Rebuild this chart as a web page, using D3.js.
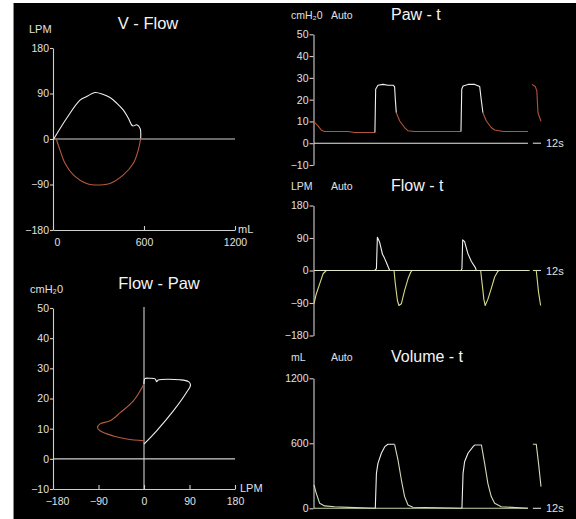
<!DOCTYPE html>
<html>
<head>
<meta charset="utf-8">
<script src="https://cdn.jsdelivr.net/npm/d3@7"></script>
<style>
  body { margin: 0; background: #fff; }
  svg { display: block; font-family: "Liberation Sans", Arial, sans-serif; }
</style>
</head>
<body>
<div class="chart"></div>
<script>
// ---- loop data ----
// V - Flow loop, inspiration then expiration
var vfInspVol  = [5, 90, 178, 222, 277, 332, 376, 420, 464, 497, 525, 552, 574, 578];
var vfInspFlow = [0, 41, 77, 84, 92, 88, 82, 71, 57, 41, 26, 28, 21, 1];
var vfExpVol   = [578, 562, 530, 464, 376, 310, 222, 134, 79, 46, 22];
var vfExpFlow  = [1, -22, -48, -71, -88, -91, -88, -71, -48, -22, 0];

// Flow - Paw loop
var fpInspFlow = [0, 25, 58, 84, 92, 88, 71, 28, 25, 22, 12, 2, 0];
var fpInspPaw  = [4.9, 9.3, 15.9, 22, 24.5, 25.6, 26.2, 26.1, 25.6, 26.5, 26.7, 26.6, 24.8];
var fpExpFlow  = [0, -21, -47, -67, -87, -92, -87, -61, -34, 0];
var fpExpPaw   = [24.8, 19.2, 15.3, 12.6, 11.6, 10.4, 9.3, 7.6, 6.6, 6];

// ---- time traces, 12 s sweep; null = erase bar ----
var pawT     = [0, 0.21, 0.39, 0.56, 1.80, 2.15, 3.22, 3.26, 3.38, 3.65, 3.91, 4.18, 4.26, 4.30, 4.35, 4.53, 4.79, 4.97, 5.3, 7.77, 7.81, 7.88, 8.14, 8.50, 8.76, 8.84, 8.93, 9.11, 9.37, 9.55, 10, 11.31, 11.4, 11.52, 11.70, 11.78, 11.84, 12];
var pawV     = [9.8, 8, 6, 5.4, 5.4, 4.9, 4.9, 24.8, 26.6, 27, 26.6, 26.6, 26, 20, 14, 10.2, 7.2, 5.7, 5.4, 5.4, 24.8, 26.3, 27, 27, 26, 20, 14, 10.2, 7.2, 6.1, 5.4, 5.4, null, 27, 26, 24, 14, 10];
var pawPhase = ["e","e","e","e","e","e","e","i","i","i","i","i","i","i","i","e","e","e","e","e","i","i","i","i","i","i","i","e","e","e","e","e","e","e","e","e","e","e"];

var flowT     = [0, 0.12, 0.30, 0.48, 0.65, 3.21, 3.30, 3.35, 3.47, 3.62, 3.72, 3.82, 4.00, 4.23, 4.30, 4.41, 4.49, 4.62, 4.79, 4.97, 5.11, 5.18, 7.77, 7.82, 7.86, 7.96, 8.14, 8.32, 8.53, 8.58, 8.81, 8.89, 8.98, 9.05, 9.19, 9.37, 9.55, 9.72, 9.80, 11.40, 11.5, 11.58, 11.75, 11.87, 11.98];
var flowV     = [-92, -65, -37, -9, 0, 0, 5, 92, 78, 45, 35, 23, 0, 0, -37, -83, -97, -92, -55, -23, -5, 0, 0, 5, 85, 80, 46, 25, 8, 0, 0, -37, -80, -97, -80, -50, -18, -2, 0, 0, null, 0, 0, -60, -97];
var flowPhase = ["e","e","e","e","e","e","i","i","i","i","i","i","i","e","e","e","e","e","e","e","e","e","e","i","i","i","i","i","i","i","e","e","e","e","e","e","e","e","e","e","e","e","e","e","e"];

var volT     = [0, 0.12, 0.30, 0.56, 1.09, 2.15, 3.24, 3.30, 3.38, 3.56, 3.74, 3.91, 4.26, 4.44, 4.62, 4.79, 4.97, 5.23, 7.79, 7.82, 7.88, 7.96, 8.14, 8.41, 8.50, 8.85, 9.02, 9.19, 9.37, 9.55, 9.90, 11.31, 11.4, 11.57, 11.75, 11.87, 12];
var volV     = [215, 138, 46, 22, 15, 6, 0, 323, 415, 508, 569, 591, 591, 446, 261, 108, 31, 9, 0, 0, 323, 430, 508, 570, 585, 585, 415, 231, 108, 46, 15, 0, null, 591, 591, 415, 200];
var volPhase = ["e","e","e","e","e","e","e","i","i","i","i","i","i","e","e","e","e","e","e","e","i","i","i","i","i","e","e","e","e","e","e","e","e","e","e","e","e"];
var sweepGap = [11.31, 11.57];

// ---- ticks ----
var vfFlowTicks = [-180, -90, 0, 90, 180];
var vfVolTicks = [0, 600, 1200];
var fpPawTicks = [-10, 0, 10, 20, 30, 40, 50];
var fpFlowTicks = [-180, -90, 0, 90, 180];
var pawTicks = [-10, 0, 10, 20, 30, 40, 50];
var flowTicks = [-180, -90, 0, 90, 180];
var volTicks = [0, 600, 1200];

var width = 576,
    height = 519;

var insColor = "#f0f0f0",
    axisColor = "#cfcfcf",
    textColor = "#e0e0e0";

var svg = d3.select(".chart")
  .append("svg")
    .attr("width", width)
    .attr("height", height);

svg.append("rect")
  .attr("x", 13).attr("y", 3)
  .attr("width", width - 13).attr("height", height - 3)
  .attr("fill", "#000");
svg.append("line")
  .attr("x1", 13.5).attr("x2", 13.5).attr("y1", 3).attr("y2", height)
  .attr("stroke", "#8a8a8a");

// scales
var xVF = d3.scaleLinear().domain([0, 1200]).range([53, 235]);
var yVF = d3.scaleLinear().domain([-180, 180]).range([230, 48]);
var xFP = d3.scaleLinear().domain([-180, 180]).range([53, 235]);
var yFP = d3.scaleLinear().domain([-10, 50]).range([489, 308]);
var xT = d3.scaleLinear().domain([0, 12]).range([314, 541]);
var yPaw = d3.scaleLinear().domain([-10, 50]).range([165, 34.3]);
var yFlow = d3.scaleLinear().domain([-180, 180]).range([335.5, 205.5]);
var yVol = d3.scaleLinear().domain([0, 1200]).range([508.3, 378.3]);

var fmt = d3.format("d");

function styleAxis(g, size) {
  g.attr("font-size", null).attr("font-family", null);
  g.select(".domain").attr("stroke", axisColor).attr("stroke-width", 1.1);
  g.selectAll(".tick line").attr("stroke", axisColor).attr("stroke-width", 1.1);
  g.selectAll(".tick text").attr("fill", textColor).style("font-size", size + "px");
}

function leftAxis(scale, ticks, x, tick) {
  var g = svg.append("g")
    .attr("transform", "translate(" + x + ",0)")
    .call(d3.axisLeft(scale).tickValues(ticks).tickFormat(fmt)
      .tickSize(tick).tickSizeOuter(0).tickPadding(1));
  styleAxis(g, 10.5);
  return g;
}

function bottomAxis(scale, ticks, y) {
  var g = svg.append("g")
    .attr("transform", "translate(0," + y + ")")
    .call(d3.axisBottom(scale).tickValues(ticks).tickFormat(fmt)
      .tickSize(-4).tickSizeOuter(0).tickPadding(9));
  styleAxis(g, 10.5);
  // first label sits a bit inside, like on the monitor
  g.selectAll(".tick text").filter(function(d, i) { return i === 0; }).attr("dx", 4);
  return g;
}

function label(x, y, txt, size, anchor, fill) {
  svg.append("text")
    .attr("x", x).attr("y", y)
    .attr("text-anchor", anchor || "start")
    .attr("fill", fill || textColor)
    .style("font-size", size + "px")
    .text(txt);
}

function hline(x1, x2, y, color) {
  svg.append("line")
    .attr("x1", x1).attr("x2", x2).attr("y1", y).attr("y2", y)
    .attr("stroke", color || axisColor).attr("stroke-width", 1.1);
}

function drawLoop(xs, ys, xScale, yScale, color) {
  var pts = xs.map(function(d, i) { return [d, ys[i]]; });
  svg.append("path")
    .datum(pts)
    .attr("d", d3.line()
      .x(function(d) { return xScale(d[0]); })
      .y(function(d) { return yScale(d[1]); })
      .curve(d3.curveCatmullRom))
    .attr("fill", "none")
    .attr("stroke", color)
    .attr("stroke-width", 1.1);
}

// split a trace into runs of the same phase, breaking at nulls
function segments(t, v, phase) {
  var segs = [], cur = null;
  for (var i = 0; i < t.length; i++) {
    if (v[i] === null) { cur = null; continue; }
    var p = [t[i], v[i]];
    if (!cur || cur.phase !== phase[i]) {
      var prev = cur ? cur.pts[cur.pts.length - 1] : null;
      cur = { phase: phase[i], pts: prev ? [prev] : [] };
      segs.push(cur);
    }
    cur.pts.push(p);
  }
  return segs;
}

function drawTrace(t, v, phase, yScale, expColor) {
  var line = d3.line()
    .x(function(d) { return xT(d[0]); })
    .y(function(d) { return yScale(d[1]); });
  svg.selectAll(null)
    .data(segments(t, v, phase))
    .enter()
    .append("path")
    .attr("d", function(d) { return line(d.pts); })
    .attr("fill", "none")
    .attr("stroke", function(d) { return d.phase === "i" ? insColor : expColor; })
    .attr("stroke-width", 1.1)
    .attr("stroke-linejoin", "round");
}

// ===== V - Flow =====
leftAxis(yVF, vfFlowTicks, 53, 3);
bottomAxis(xVF, vfVolTicks, yVF(-180));
hline(xVF(0), xVF(1200), yVF(0));
drawLoop(vfInspVol, vfInspFlow, xVF, yVF, insColor);
drawLoop(vfExpVol, vfExpFlow, xVF, yVF, "#b85a3c");
label(148, 29, "V - Flow", 16.5, "middle", "#f4f4f4");
label(29, 33, "LPM", 11);
label(238, 233, "mL", 11);

// ===== Flow - Paw =====
leftAxis(yFP, fpPawTicks, 53, 3);
bottomAxis(xFP, fpFlowTicks, yFP(-10));
hline(xFP(-180), xFP(180), yFP(0));
svg.append("line")
  .attr("x1", xFP(0)).attr("x2", xFP(0)).attr("y1", yFP(50) - 1).attr("y2", yFP(-10))
  .attr("stroke", axisColor).attr("stroke-width", 1.1);
drawLoop(fpExpFlow, fpExpPaw, xFP, yFP, "#b85a3c");
drawLoop(fpInspFlow, fpInspPaw, xFP, yFP, insColor);
label(159, 289, "Flow - Paw", 16.5, "middle", "#f4f4f4");
label(30, 293, "cmH\u20820", 11);
label(240, 492, "LPM", 11);

// ===== time panels =====
function timePanel(yScale, ticks, unit, title, titleY, unitY) {
  leftAxis(yScale, ticks, 313.5, 4);
  label(391, titleY, title, 16, "start", "#f4f4f4");
  label(291, unitY, unit, 10.5);
  label(331, unitY, "Auto", 10.5);
  label(xT(12) + 5, yScale(0) + 4, "12s", 11);
  hline(xT(sweepGap[1]), xT(12), yScale(0), "#d8d8d8");
}

// Paw - t
timePanel(yPaw, pawTicks, "cmH\u20820", "Paw - t", 20, 19);
hline(xT(0), xT(sweepGap[0]), yPaw(0), "#e8e8e8");
drawTrace(pawT, pawV, pawPhase, yPaw, "#b4543a");

// Flow - t
timePanel(yFlow, flowTicks, "LPM", "Flow - t", 191, 190);
drawTrace(flowT, flowV, flowPhase, yFlow, "#d6da86");
hline(xT(0), xT(sweepGap[0]), yFlow(0), "#e4e4c8");

// Volume - t
timePanel(yVol, volTicks, "mL", "Volume - t", 362, 361);
hline(xT(0), xT(sweepGap[0]), yVol(0), "#c4d4aa");
drawTrace(volT, volV, volPhase, yVol, "#cfdcb8");
</script>
</body>
</html>
